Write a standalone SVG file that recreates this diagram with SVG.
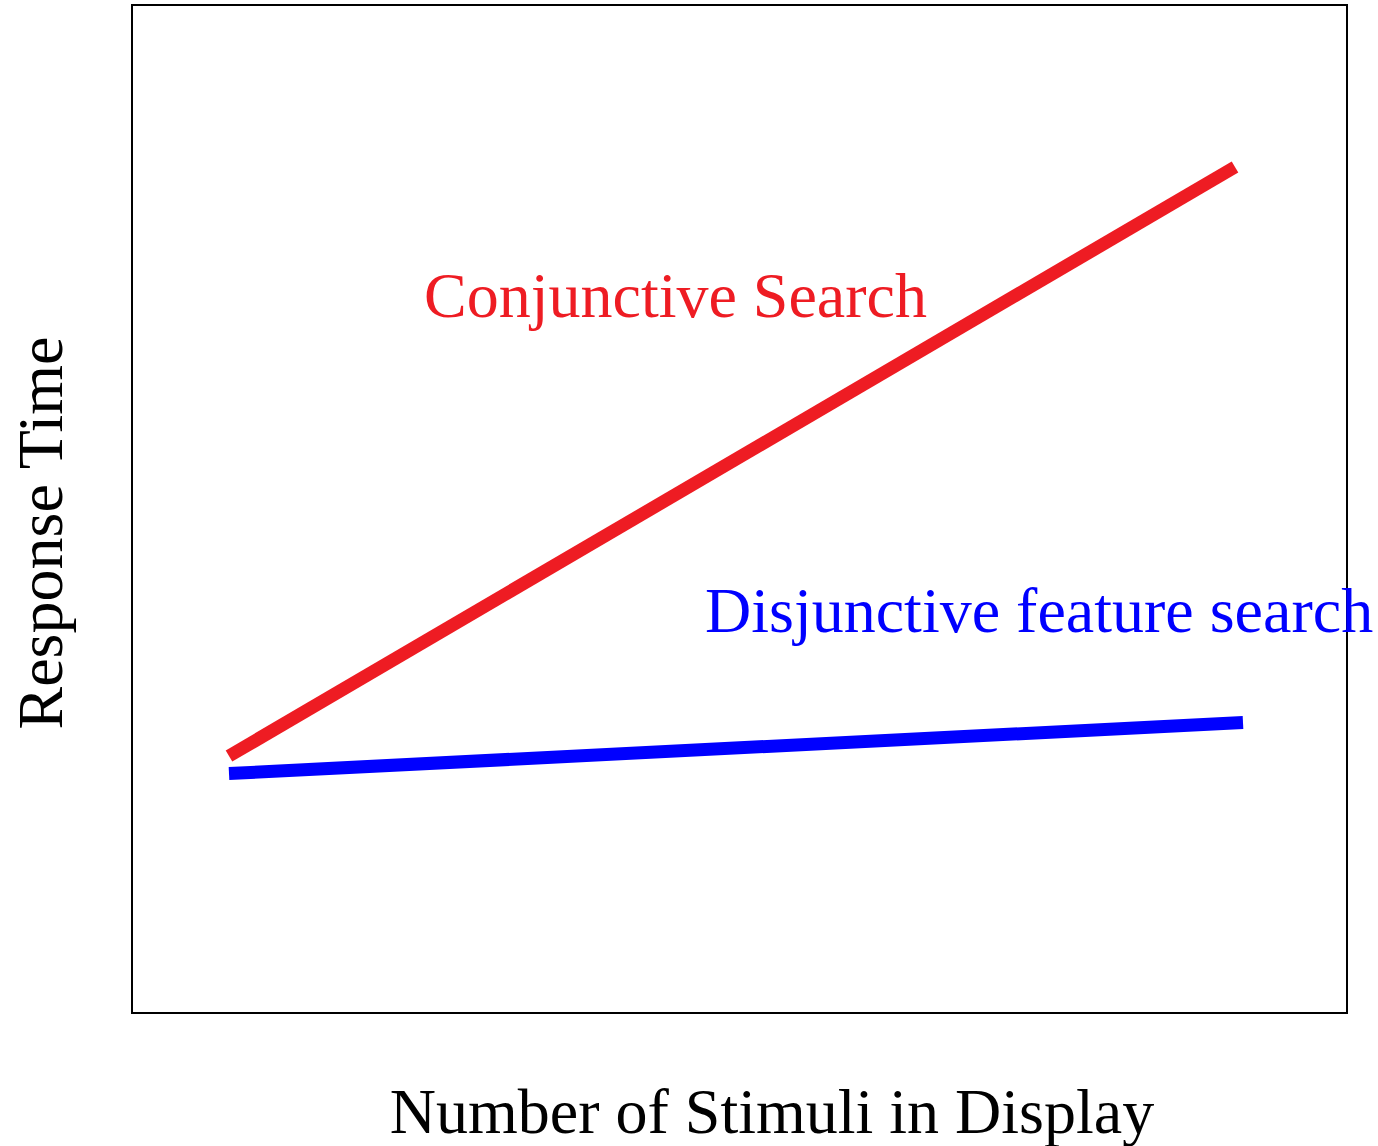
<svg xmlns="http://www.w3.org/2000/svg" width="1378" height="1146" viewBox="0 0 1378 1146">
<style>
text { font-family: "Liberation Serif", "Times New Roman", serif; font-size: 64px; }
.frame { fill: #fff; stroke: #000; stroke-width: 2; }
.series { fill: none; stroke-width: 13; }
</style>
<rect width="1378" height="1146" fill="#fff"/>
<g id="plot-frame">
<rect class="frame" x="132" y="5" width="1215" height="1008"/>
</g>
<g id="connectors">
<line id="conjunctive-line" class="series" stroke="#ee1c23" x1="229" y1="756" x2="1235" y2="167"/>
<line id="disjunctive-line" class="series" stroke="#0000ff" x1="229" y1="773.5" x2="1243" y2="722.5"/>
</g>
<g id="label-conjunctive">
<text x="424" y="317" fill="#ee1c23">Conjunctive Search</text>
</g>
<g id="label-disjunctive">
<text x="705" y="632" fill="#0000ff">Disjunctive feature search</text>
</g>
<g id="x-axis-label">
<text x="772" y="1133" text-anchor="middle" fill="#000">Number of Stimuli in Display</text>
</g>
<g id="y-axis-label">
<text transform="translate(62,533) rotate(-90)" text-anchor="middle" fill="#000">Response Time</text>
</g>
</svg>
